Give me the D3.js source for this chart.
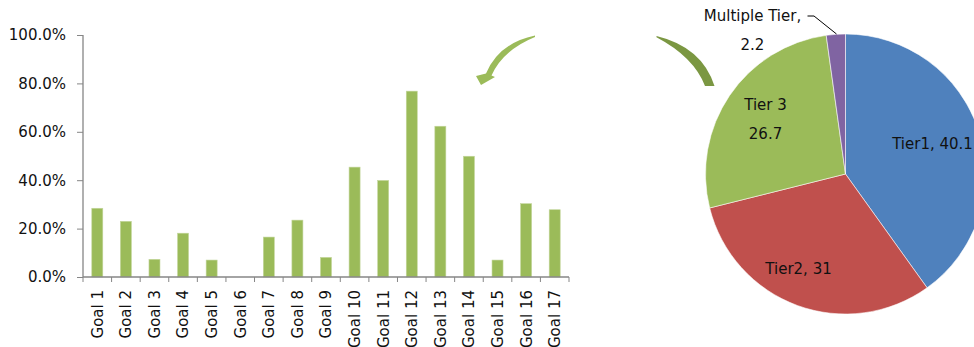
<!DOCTYPE html>
<html>
<head>
<meta charset="utf-8">
<script src="https://cdn.jsdelivr.net/npm/d3@7/dist/d3.min.js"></script>
<style>
  html, body { margin: 0; padding: 0; background: #fff; }
  svg { display: block; }
  text { font-family: "DejaVu Sans", sans-serif; fill: #111; }
</style>
</head>
<body>
<svg id="chart" width="974" height="347"></svg>
<script>
// ---- data ----
const goals = ["Goal 1","Goal 2","Goal 3","Goal 4","Goal 5","Goal 6","Goal 7","Goal 8","Goal 9",
               "Goal 10","Goal 11","Goal 12","Goal 13","Goal 14","Goal 15","Goal 16","Goal 17"];
const goalShares = [0.284, 0.230, 0.073, 0.181, 0.070, 0.000, 0.165, 0.235, 0.081,
                    0.454, 0.399, 0.768, 0.623, 0.499, 0.070, 0.303, 0.278];
const yTicks = [0, 0.2, 0.4, 0.6, 0.8, 1.0];

const tierNames  = ["Tier1", "Tier2", "Tier 3", "Multiple Tier"];
const tierValues = [40.1, 31, 26.7, 2.2];
const tierColors = ["#4F81BD", "#C0504D", "#9BBB59", "#8064A2"];

// ---- bar chart ----
const svg = d3.select("#chart");
const axisColor = "#868686";

const x = d3.scaleBand().domain(goals).range([83, 569]).paddingInner(0).paddingOuter(0);
const y = d3.scaleLinear().domain([0, 1]).range([277, 35]);
const barW = 11;

const bars = svg.append("g");
bars.selectAll("rect").data(goals).join("rect")
  .attr("x", d => x(d) + x.bandwidth() / 2 - barW / 2)
  .attr("y", (d, i) => y(goalShares[i]))
  .attr("width", barW)
  .attr("height", (d, i) => y(0) - y(goalShares[i]))
  .attr("fill", "#9BBB59")
  .attr("stroke", "#c3d69b")
  .attr("stroke-width", 0.6);

// y axis
const yAxis = svg.append("g").attr("transform", "translate(83,0)")
  .call(d3.axisLeft(y).tickValues(yTicks).tickFormat(d3.format(".1%")).tickSize(5).tickPadding(12));
yAxis.select(".domain").attr("stroke", axisColor).attr("stroke-width", 1.3).attr("d", "M0," + y(1) + "V" + y(0));
yAxis.selectAll(".tick line").attr("stroke", axisColor).attr("x2", -6);
yAxis.selectAll(".tick text").attr("font-size", 15).attr("font-family", "DejaVu Sans").attr("fill", "#111");

// x axis
const xAxisG = svg.append("g").attr("transform", "translate(0,277)");
xAxisG.append("line").attr("x1", 83).attr("x2", 569).attr("y1", 0).attr("y2", 0)
  .attr("stroke", axisColor).attr("stroke-width", 1.3);
const boundaries = goals.map(g => x(g)).concat([x(goals[goals.length - 1]) + x.bandwidth()]);
xAxisG.selectAll("line.tk").data(boundaries).join("line").attr("class", "tk")
  .attr("x1", d => d).attr("x2", d => d).attr("y1", 0).attr("y2", 5)
  .attr("stroke", axisColor);
xAxisG.selectAll("text").data(goals).join("text")
  .attr("transform", d => `translate(${x(d) + x.bandwidth() / 2},13) rotate(-90)`)
  .attr("text-anchor", "end")
  .attr("dy", "0.36em")
  .attr("font-size", 15)
  .text(d => d);

// ---- decorative curved arrows ----
svg.append("path")
  .attr("d", "M535,35.5 Q499,43 486,73.5 L476,76 L481,85 L495,77 L491.5,75.5 Q503,50 535,37 Z")
  .attr("fill", "#9BBB59");
svg.append("path")
  .attr("d", "M656.5,36 Q702,47 714.5,86 L705,86 Q694,57 656.5,37.2 Z")
  .attr("fill", "#7B9742");

// ---- pie ----
const cx = 845.5, cy = 174, r = 140;
const pie = d3.pie().sort(null).value(d => d);
const arc = d3.arc().innerRadius(0).outerRadius(r);
const pieG = svg.append("g").attr("transform", `translate(${cx},${cy})`);
pieG.selectAll("path").data(pie(tierValues)).join("path")
  .attr("d", arc)
  .attr("fill", (d, i) => tierColors[i])
  .attr("stroke", "#ffffff")
  .attr("stroke-opacity", 0.7)
  .attr("stroke-width", 0.8);

// pie labels
const lbl = svg.append("g").attr("font-size", 15).attr("text-anchor", "middle");
lbl.append("text").attr("x", 932.5).attr("y", 149).text(tierNames[0] + ", " + tierValues[0]);
lbl.append("text").attr("x", 798.5).attr("y", 274).text(tierNames[1] + ", " + tierValues[1]);
lbl.append("text").attr("x", 765.5).attr("y", 109.5).text(tierNames[2]);
lbl.append("text").attr("x", 765.5).attr("y", 138.5).text(tierValues[2]);
lbl.append("text").attr("x", 752.5).attr("y", 21).text(tierNames[3] + ",");
lbl.append("text").attr("x", 752.5).attr("y", 50).text(tierValues[3]);

// leader line
svg.append("polyline")
  .attr("points", "807.5,16 814,16 836.5,34")
  .attr("fill", "none").attr("stroke", "#000").attr("stroke-width", 1);
</script>
</body>
</html>
